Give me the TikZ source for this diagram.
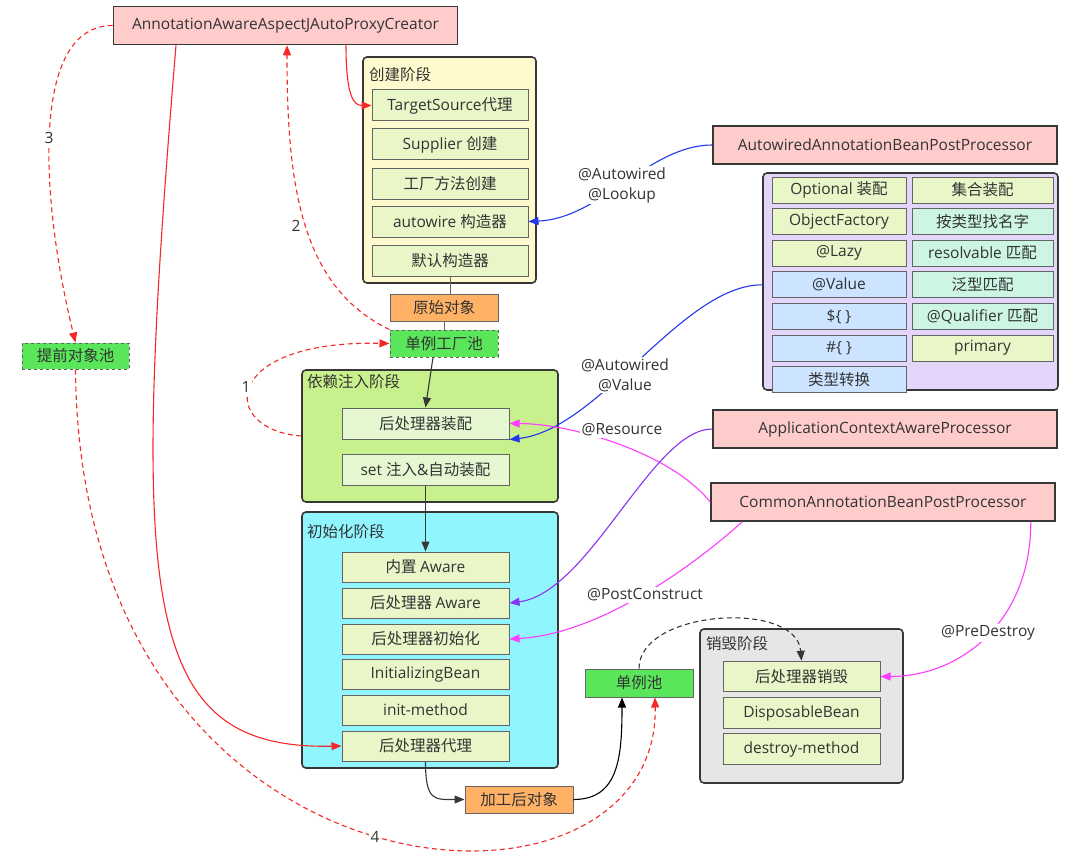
\documentclass[tikz,border=0pt]{standalone}
\usepackage{fontspec}
\setmainfont{Open Sans}
\newfontfamily\latinfont{Open Sans}
\newfontfamily\cjkfont{Noto Sans CJK SC}
% switch to the CJK font for Han characters
\XeTeXinterchartokenstate=1
\newXeTeXintercharclass\cjkclass
\newcount\lccnt
\lccnt="4E00
\loop
  \XeTeXcharclass\lccnt=\cjkclass
  \advance\lccnt by 1
\ifnum\lccnt<"A000\repeat
\XeTeXinterchartoks 0 \cjkclass = {\cjkfont}
\XeTeXinterchartoks 4095 \cjkclass = {\cjkfont}
\XeTeXinterchartoks \cjkclass 0 = {\latinfont}
\XeTeXinterchartoks 4095 0 = {\latinfont}
\usepackage{tikz}
\usetikzlibrary{arrows.meta,positioning}
\definecolor{lcink}{RGB}{51,51,51}
\definecolor{lcdark}{RGB}{55,55,55}
\definecolor{lcgray}{RGB}{100,100,100}
\definecolor{lcproc}{RGB}{255,204,204}
\definecolor{lccreate}{RGB}{255,250,205}
\definecolor{lcstep}{RGB}{232,246,200}
\definecolor{lcinject}{RGB}{200,240,140}
\definecolor{lcinj}{RGB}{230,248,210}
\definecolor{lcinit}{RGB}{145,245,255}
\definecolor{lcdestroy}{RGB}{230,230,230}
\definecolor{lccand}{RGB}{228,213,250}
\definecolor{lcval}{RGB}{204,228,255}
\definecolor{lcmatch}{RGB}{204,245,228}
\definecolor{lcobj}{RGB}{255,178,102}
\definecolor{lcpool}{RGB}{90,230,90}
\definecolor{lcred}{RGB}{245,40,40}
\definecolor{lcblue}{RGB}{35,55,235}
\definecolor{lcmag}{RGB}{255,60,255}
\definecolor{lcpurp}{RGB}{140,50,245}
\newcommand{\lcfont}{\fontsize{15.5}{20}\selectfont}
\tikzset{
  lcbox/.style={
    align=center, inner sep=0pt, text=lcink, font=\lcfont
  },
  proc/.style={lcbox, draw=lcdark, fill=lcproc, line width=1.6pt,
    minimum width=344, minimum height=38},
  phase/.style={draw=lcdark, line width=1.6pt, rounded corners=4pt},
  tag/.style={lcbox, anchor=west},
  stepbox/.style={lcbox, draw=lcgray, line width=1pt, fill=lcstep},
  cstep/.style={stepbox, minimum width=156, minimum height=31},
  istep/.style={stepbox, minimum width=167, minimum height=30},
  dstep/.style={stepbox, minimum width=157, minimum height=30.5},
  lcell/.style={stepbox, minimum width=134, minimum height=26},
  rcell/.style={stepbox, minimum width=141, minimum height=26},
  obj/.style={lcbox, draw=lcgray, line width=1pt, fill=lcobj,
    minimum width=108, minimum height=27},
  pool/.style={lcbox, draw=lcgray, line width=1pt, fill=lcpool,
    minimum width=108, minimum height=27},
  lbl/.style={lcbox, fill=white, inner sep=1.5pt},
  arr/.style={-{Triangle[length=10pt,width=8pt]}, line width=1.1pt},
  dsh/.style={dash pattern=on 5pt off 3.5pt}
}
\begin{document}
\begin{tikzpicture}[x=1pt, y=-1pt]
  \useasboundingbox (0,0) rectangle (1087,864);
  \fill[white] (0,0) rectangle (1087,864);

  % creator on top
  \node[proc] (apc) at (285.5,25.5) {AnnotationAwareAspectJAutoProxyCreator};

  % create phase
  \node[phase, fill=lccreate, minimum width=173, minimum height=226] (create) at (449.5,170) {};
  \node[tag] (createT) at (369,75) {创建阶段};
  \node[cstep] (tsrc) at (450,105.5) {TargetSource代理};
  \node[cstep, below=7pt of tsrc] (supp) {Supplier 创建};
  \node[cstep, below=7pt of supp] (fact) {工厂方法创建};
  \node[cstep, below=6pt of fact] (wire) {autowire 构造器};
  \node[cstep, below=7pt of wire] (dflt) {默认构造器};

  \node[obj] (raw) at (444,307.5) {原始对象};
  \node[pool, dashed] (sfp) at (444,343.5) {单例工厂池};
  \node[pool, dashed, minimum width=107, minimum height=26] (early) at (75.5,356) {提前对象池};

  % inject phase
  \node[phase, fill=lcinject, minimum width=256, minimum height=132] (inject) at (430,436) {};
  \node[tag] (injectT) at (307,382) {依赖注入阶段};
  \node[istep, fill=lcinj, minimum height=31] (bppw) at (425.5,423.5) {后处理器装配};
  \node[istep, fill=lcinj, minimum height=31, below=14pt of bppw] (seti) {set 注入\&自动装配};

  % init phase
  \node[phase, fill=lcinit, minimum width=256, minimum height=256] (init) at (430,640) {};
  \node[tag] (initT) at (307,532) {初始化阶段};
  \node[istep] (aware) at (425.5,567) {内置 Aware};
  \node[istep, below=5pt of aware] (bppa) {后处理器 Aware};
  \node[istep, below=5pt of bppa] (bppi) {后处理器初始化};
  \node[istep, below=4.5pt of bppi] (ibean) {InitializingBean};
  \node[istep, below=4.5pt of ibean] (imeth) {init-method};
  \node[istep, below=5pt of imeth] (bppp) {后处理器代理};

  \node[obj] (done) at (519,799.5) {加工后对象};
  \node[pool, minimum height=28] (pool) at (639,683) {单例池};

  % destroy phase
  \node[phase, fill=lcdestroy, minimum width=203, minimum height=154] (destroy) at (801.5,706) {};
  \node[tag] (destroyT) at (706,644) {销毁阶段};
  \node[dstep] (bppd) at (801.5,676.5) {后处理器销毁};
  \node[dstep, below=5pt of bppd] (dbean) {DisposableBean};
  \node[dstep, below=4.5pt of dbean] (dmeth) {destroy-method};

  % processors on the right
  \node[proc] (aabpp) at (885,145) {AutowiredAnnotationBeanPostProcessor};
  \node[phase, fill=lccand, minimum width=295, minimum height=217] (cands) at (910.5,281.5) {};
  \node[lcell] (opt) at (839,190) {Optional 装配};
  \node[lcell, below=4.6pt of opt] (objf) {ObjectFactory};
  \node[lcell, below=4.6pt of objf] (lazy) {@Lazy};
  \node[lcell, fill=lcval, below=4.6pt of lazy] (val) {@Value};
  \node[lcell, fill=lcval, below=4.6pt of val] (dollar) {\$\{ \}};
  \node[lcell, fill=lcval, below=4.6pt of dollar] (hash) {\#\{ \}};
  \node[lcell, fill=lcval, below=4.6pt of hash] (conv) {类型转换};
  \node[rcell] (coll) at (982.5,190) {集合装配};
  \node[rcell, fill=lcmatch, below=4.6pt of coll] (bytype) {按类型找名字};
  \node[rcell, fill=lcmatch, below=4.6pt of bytype] (resolv) {resolvable 匹配};
  \node[rcell, fill=lcmatch, below=4.6pt of resolv] (generic) {泛型匹配};
  \node[rcell, fill=lcmatch, below=4.6pt of generic] (qual) {@Qualifier 匹配};
  \node[rcell, below=4.6pt of qual] (prim) {primary};
  \node[proc] (acap) at (885,429) {ApplicationContextAwareProcessor};
  \node[proc] (cabpp) at (883,502) {CommonAnnotationBeanPostProcessor};

  % main flow
  \draw[lcgray, line width=1pt] (dflt.south) -- (dflt.south |- raw.north);
  \draw[lcgray, line width=1pt] (raw.south) -- (sfp.north);
  \draw[arr, lcdark] ([xshift=-11pt]sfp.south) -- (bppw.north);
  \draw[arr, lcdark] (seti.south) -- (aware.north);
  \draw[arr, lcdark] (bppp.south) .. controls +(0,40) and +(-30,0) .. (done.west);
  \draw[arr, black] (done.east) .. controls +(45,0) and +(0,60) .. ([xshift=-17pt]pool.south);
  \draw[arr, lcdark, dsh] (pool.north) .. controls +(0,-59) and +(-5,-61) .. (bppd.north);

  % proxy creator
  \draw[arr, lcred] ([xshift=60.5pt]apc.south) .. controls +(0,50) and +(-18,0) .. (tsrc.west);
  \draw[arr, lcred] ([xshift=-109.5pt]apc.south) .. controls +(-46,556) and +(-202,4) .. (bppp.west);
  \draw[arr, lcred, dsh] (inject.west) .. controls +(-82,-6) and +(-170,-3.5) .. (sfp.west);
  \draw[arr, lcred, dsh] (sfp.north west) .. controls +(-90,-43) and +(0,136) .. ([xshift=1.5pt]apc.south);
  \draw[arr, lcred, dsh] (apc.west) .. controls +(-83,0) and +(-35,-143) .. (early.north);
  \draw[arr, lcred, dsh] (early.south) .. controls +(4.5,550) and +(5,250) .. ([xshift=16pt]pool.south);

  % post processors
  \draw[arr, lcblue] (aabpp.west) .. controls +(-63,0) and +(72,-3) .. (wire.east);
  \draw[arr, lcblue] (cands.west |- val.west) .. controls +(-80,0) and +(90,-10) .. (bppw.south east);
  \draw[arr, lcmag] (cabpp.west) .. controls +(-40,-50) and +(60,0) .. (bppw.east);
  \draw[arr, lcpurp] (acap.west) .. controls +(-60,0) and +(80,-10) .. (bppa.east);
  \draw[arr, lcmag] ([xshift=32pt]cabpp.south west) .. controls +(-50,45) and +(90,-5) .. (bppi.east);
  \draw[arr, lcmag] ([xshift=-25pt]cabpp.south east) .. controls +(0,100) and +(80,0) .. (bppd.east);

  % labels
  \node[lbl] (lk) at (622,185) {@Autowired\\@Lookup};
  \node[lbl] (lv) at (625,375) {@Autowired\\@Value};
  \node[lbl] (lr) at (622,430) {@Resource};
  \node[lbl] (lpc) at (645,595) {@PostConstruct};
  \node[lbl] (lpd) at (988,633) {@PreDestroy};
  \node[lbl] (n1) at (246,387) {1};
  \node[lbl] (n2) at (296,226) {2};
  \node[lbl] (n3) at (49,138) {3};
  \node[lbl] (n4) at (375,837) {4};
\end{tikzpicture}
\end{document}
